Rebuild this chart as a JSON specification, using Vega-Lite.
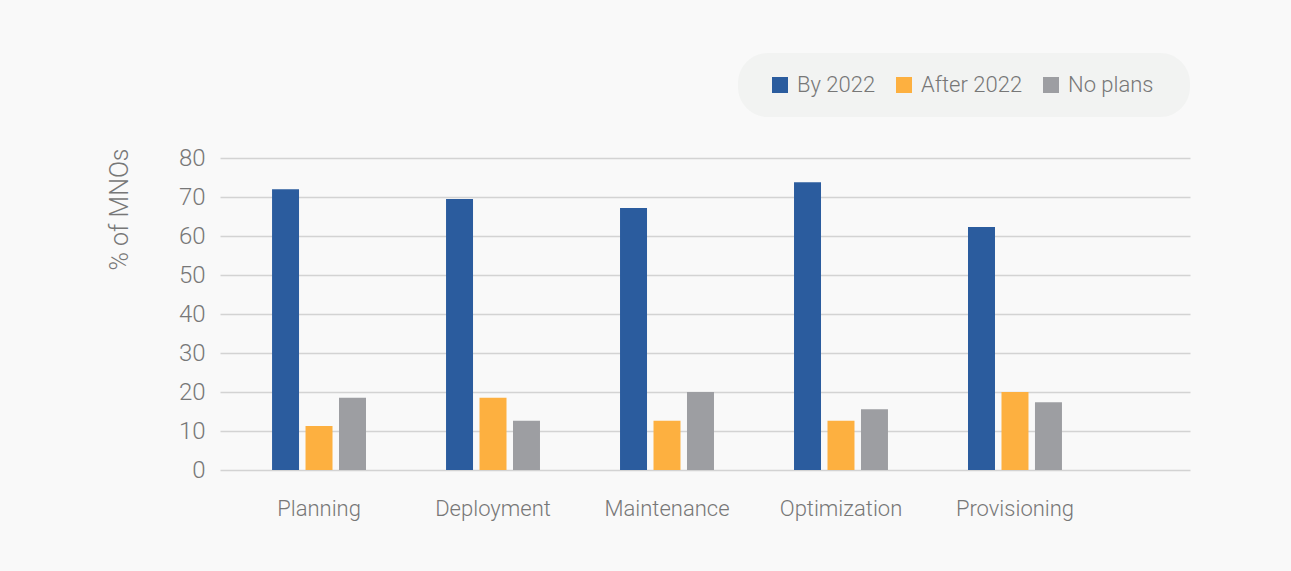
{
  "$schema": "https://vega.github.io/schema/vega-lite/v6.json",
  "width": 970,
  "height": 312,
  "autosize": {"type": "none"},
  "padding": {"left": 220, "top": 158, "right": 101, "bottom": 101},
  "background": "#f9f9f9",
  "config": {
    "view": {"stroke": null},
    "font": "Roboto",
    "axis": {"labelFont": "Roboto", "titleFont": "Roboto", "labelFontWeight": 300, "titleFontWeight": 300, "labelColor": "#777777", "titleColor": "#777777"},
    "legend": {"labelFont": "Roboto", "labelFontWeight": 300}
  },
  "data": {
    "values": [
      {"task": "Planning", "plan": "By 2022", "value": 72},
      {"task": "Planning", "plan": "After 2022", "value": 11.3},
      {"task": "Planning", "plan": "No plans", "value": 18.5},
      {"task": "Deployment", "plan": "By 2022", "value": 69.5},
      {"task": "Deployment", "plan": "After 2022", "value": 18.5},
      {"task": "Deployment", "plan": "No plans", "value": 12.6},
      {"task": "Maintenance", "plan": "By 2022", "value": 67.2},
      {"task": "Maintenance", "plan": "After 2022", "value": 12.6},
      {"task": "Maintenance", "plan": "No plans", "value": 20},
      {"task": "Optimization", "plan": "By 2022", "value": 73.8},
      {"task": "Optimization", "plan": "After 2022", "value": 12.6},
      {"task": "Optimization", "plan": "No plans", "value": 15.6},
      {"task": "Provisioning", "plan": "By 2022", "value": 62.3},
      {"task": "Provisioning", "plan": "After 2022", "value": 20},
      {"task": "Provisioning", "plan": "No plans", "value": 17.4}
    ]
  },
  "mark": {"type": "bar"},
  "encoding": {
    "x": {
      "field": "task",
      "type": "nominal",
      "sort": ["Planning", "Deployment", "Maintenance", "Optimization", "Provisioning"],
      "scale": {"paddingInner": 0.46, "paddingOuter": 0.5175, "align": 0.289},
      "axis": {"title": null, "labelAngle": 0, "labelFontSize": 22, "labelPadding": 28, "domain": false, "ticks": false, "grid": false}
    },
    "xOffset": {
      "field": "plan",
      "type": "nominal",
      "sort": ["By 2022", "After 2022", "No plans"],
      "scale": {"paddingInner": 0.194, "paddingOuter": 0}
    },
    "y": {
      "field": "value",
      "type": "quantitative",
      "scale": {"domain": [0, 80]},
      "axis": {
        "title": "% of MNOs",
        "titleFontSize": 25,
        "titleAnchor": "end",
        "titleX": -88,
        "titleY": -10,
        "titleBaseline": "bottom",
        "titleAlign": "right",
        "values": [0, 10, 20, 30, 40, 50, 60, 70, 80],
        "labelFontSize": 24,
        "labelPadding": 15,
        "domain": false,
        "ticks": false,
        "grid": true,
        "gridColor": "#d3d3d3",
        "gridWidth": 1.5
      }
    },
    "color": {
      "field": "plan",
      "type": "nominal",
      "sort": ["By 2022", "After 2022", "No plans"],
      "scale": {"domain": ["By 2022", "After 2022", "No plans"], "range": ["#2b5c9e", "#fdb040", "#9d9ea2"]},
      "legend": {
        "title": " ",
        "titleOrient": "right",
        "titlePadding": 15,
        "orient": "none",
        "direction": "horizontal",
        "legendX": 518,
        "legendY": -105,
        "padding": 21,
        "fillColor": "#f2f3f2",
        "cornerRadius": 30,
        "symbolType": "square",
        "symbolSize": 256,
        "symbolStrokeWidth": 0,
        "symbolOpacity": 1,
        "symbolOffset": 10,
        "labelFontSize": 22,
        "labelColor": "#777777",
        "labelOffset": 6,
        "columnPadding": 7
      }
    }
  }
}
